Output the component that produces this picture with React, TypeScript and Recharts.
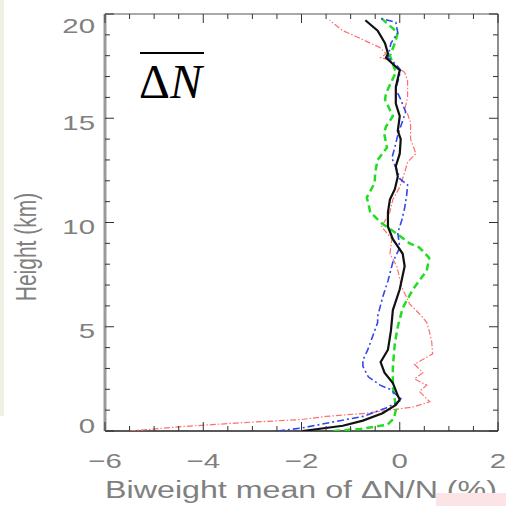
import React from 'react';
import { ScatterChart, Scatter, XAxis, YAxis } from 'recharts';

// ---- axis ticks / labels ----
const X_TICKS = [-6, -5.5, -5, -4.5, -4, -3.5, -3, -2.5, -2, -1.5, -1, -0.5, 0, 0.5, 1, 1.5, 2];
const X_MAJOR = [-6, -4, -2, 0, 2];
const Y_TICKS = [0, 1, 2, 3, 4, 5, 6, 7, 8, 9, 10, 11, 12, 13, 14, 15, 16, 17, 18, 19, 20];
const Y_MAJOR = [0, 5, 10, 15, 20];
const X_LABEL = 'Biweight mean of \u0394N/N (%)';
const Y_LABEL = 'Height (km)';

// ---- series (value in %, height in km) ----
const blackH = [0, 0.25, 0.5, 0.85, 1.25, 1.5, 1.7, 2.3, 2.8, 3.3, 3.9, 4.8, 5.8, 6.8, 7.9, 8.5, 9.2, 9.8, 10.5, 11.1, 11.6, 12.2, 12.7, 13.3, 14.0, 14.4, 15.1, 15.7, 16.5, 17.3, 17.6, 17.9, 18.1, 18.6, 19.2, 19.7];
const blackV = [-1.98, -1.16, -0.75, -0.35, -0.08, 0.0, -0.04, -0.14, -0.31, -0.39, -0.24, -0.18, -0.14, 0.0, 0.1, 0.06, -0.14, -0.24, -0.24, -0.2, -0.1, -0.04, -0.08, 0.0, 0.02, -0.04, 0.0, -0.08, -0.08, 0.0, -0.14, -0.28, -0.24, -0.3, -0.45, -0.7];

const blueH = [0, 0.15, 0.4, 0.7, 1.1, 1.5, 2.0, 2.2, 2.6, 3.1, 3.4, 3.9, 5.2, 5.5, 6.4, 7.2, 8.1, 8.8, 9.5, 10.1, 10.7, 11.3, 11.8, 12.1, 12.4, 13.1, 13.6, 14.2, 15.3, 15.9, 16.4, 17.3, 17.6, 17.9, 18.6, 19.1, 19.6, 19.8];
const blueV = [-2.48, -1.98, -1.43, -0.75, -0.28, 0.05, -0.2, -0.4, -0.64, -0.75, -0.75, -0.65, -0.45, -0.45, -0.35, -0.24, -0.14, 0.0, -0.04, 0.04, 0.1, 0.14, 0.16, 0.0, -0.04, -0.16, -0.1, -0.04, 0.12, 0.02, -0.08, 0.02, -0.08, -0.24, -0.18, -0.04, -0.08, -0.4];

const greenH = [0, 0.1, 0.3, 0.6, 1.0, 1.5, 2.1, 3.1, 4.2, 5.0, 5.9, 6.8, 7.7, 8.3, 8.8, 9.0, 9.5, 10.0, 10.5, 11.2, 11.9, 12.4, 13.0, 13.6, 14.3, 14.6, 15.1, 15.4, 15.9, 16.2, 16.7, 17.2, 17.6, 18.0, 18.6, 19.1, 19.6, 19.8];
const greenV = [-1.35, -0.8, -0.25, -0.12, -0.08, -0.1, -0.14, -0.14, -0.1, -0.04, 0.06, 0.27, 0.55, 0.6, 0.4, 0.2, -0.08, -0.39, -0.6, -0.67, -0.51, -0.5, -0.45, -0.26, -0.32, -0.28, -0.14, -0.2, -0.3, -0.28, -0.18, -0.08, -0.14, -0.2, -0.1, -0.04, -0.28, -0.38];

const redH = [0, 0.2, 0.4, 0.55, 0.7, 0.85, 1.0, 1.15, 1.4, 1.9, 2.2, 2.5, 2.8, 3.2, 3.7, 4.3, 4.8, 5.2, 5.5, 6.1, 6.9, 7.9, 8.5, 9.2, 9.8, 10.5, 11.1, 11.7, 12.4, 12.9, 13.3, 14.0, 14.8, 15.2, 15.4, 16.0, 16.8, 17.2, 17.5, 17.8, 17.9, 18.1, 18.4, 18.7, 19.0, 19.2, 19.7];
const redV = [-5.5, -4.5, -3.2, -2.0, -1.5, -0.7, -0.2, 0.27, 0.61, 0.4, 0.55, 0.3, 0.47, 0.3, 0.67, 0.65, 0.6, 0.55, 0.45, 0.2, 0.04, -0.06, -0.2, -0.16, -0.37, -0.2, -0.14, 0.0, 0.1, 0.16, 0.33, 0.22, 0.22, 0.16, 0.1, 0.16, 0.16, 0.1, -0.08, -0.2, -0.39, -0.28, -0.41, -0.69, -0.96, -1.16, -1.43];

const zip = (hs: number[], vs: number[]) => hs.map((h, i) => ({ x: vs[i], y: h }));
const blackData = zip(blackH, blackV);
const blueData = zip(blueH, blueV);
const greenData = zip(greenH, greenV);
const redData = zip(redH, redV);

const LABEL_FILL = '#808080';
const LABEL_FONT = '"Liberation Sans", Arial, sans-serif';
const TICK_COLOR = '#333';

const fmt = (v: number) => (v < 0 ? '\u2212' + Math.abs(v) : String(v));

const BottomTick = (p: any) => {
  const { x, y, payload } = p;
  const major = X_MAJOR.includes(payload.value);
  return (
    <g>
      <line x1={x} x2={x} y1={y} y2={y - (major ? 9 : 5)} stroke={TICK_COLOR} strokeWidth={1} />
      {major && (
        <text transform={`translate(${x},${y + 37}) scale(1.4,1)`} textAnchor="middle" fontSize={21}
          fontFamily={LABEL_FONT} fill={LABEL_FILL}>{fmt(payload.value)}</text>
      )}
    </g>
  );
};

const TopTick = (p: any) => {
  const { x, y, payload } = p;
  const major = X_MAJOR.includes(payload.value);
  return <line x1={x} x2={x} y1={y} y2={y + (major ? 9 : 5)} stroke={TICK_COLOR} strokeWidth={1} />;
};

const LeftTick = (p: any) => {
  const { x, y, payload } = p;
  const major = Y_MAJOR.includes(payload.value);
  const off = payload.value === 20 ? 19 : payload.value === 0 ? 2 : 11.5;
  return (
    <g>
      <line x1={x} x2={x + (major ? 9 : 5)} y1={y} y2={y} stroke={TICK_COLOR} strokeWidth={1} />
      {major && (
        <text transform={`translate(${x - 10},${y + off}) scale(1.4,1)`} textAnchor="end" fontSize={21}
          fontFamily={LABEL_FONT} fill={LABEL_FILL}>{fmt(payload.value)}</text>
      )}
    </g>
  );
};

const RightTick = (p: any) => {
  const { x, y, payload } = p;
  const major = Y_MAJOR.includes(payload.value);
  return <line x1={x} x2={x - (major ? 9 : 5)} y1={y} y2={y} stroke={TICK_COLOR} strokeWidth={1} />;
};

const NoShape = () => <g />;

export default function App() {
  return (
    <div style={{ position: 'absolute', left: 0, top: 0, width: 506, height: 506, background: '#fff', overflow: 'hidden' }}>
      <ScatterChart width={506} height={506} margin={{ top: 13, right: 7, bottom: 74, left: 104 }}>
        <XAxis xAxisId="b" type="number" dataKey="x" domain={[-6, 2]} ticks={X_TICKS} interval={0}
          tickSize={0} tickMargin={0} height={1} tickLine={false} allowDataOverflow
          axisLine={{ stroke: '#222', strokeWidth: 1.5 }} tick={(p: any) => <BottomTick {...p} />} />
        <XAxis xAxisId="t" orientation="top" type="number" dataKey="x" domain={[-6, 2]} ticks={X_TICKS} interval={0}
          tickSize={0} tickMargin={0} height={1} tickLine={false} allowDataOverflow
          axisLine={{ stroke: '#555', strokeWidth: 1.2 }} tick={(p: any) => <TopTick {...p} />} />
        <YAxis yAxisId="l" type="number" dataKey="y" domain={[0, 20]} ticks={Y_TICKS} interval={0}
          tickSize={0} tickMargin={0} width={1} tickLine={false} allowDataOverflow
          axisLine={{ stroke: '#9a9a9a', strokeWidth: 3 }} tick={(p: any) => <LeftTick {...p} />} />
        <YAxis yAxisId="r" orientation="right" type="number" dataKey="y" domain={[0, 20]} ticks={Y_TICKS} interval={0}
          tickSize={0} tickMargin={0} width={1} tickLine={false} allowDataOverflow
          axisLine={{ stroke: '#444', strokeWidth: 1.2 }} tick={(p: any) => <RightTick {...p} />} />
        <Scatter xAxisId="b" yAxisId="l" data={redData} fill="none" shape={NoShape} isAnimationActive={false}
          line={{ stroke: '#ff6f6f', strokeWidth: 1.2, strokeDasharray: '6 2 1.5 2' }} lineType="joint" />
        <Scatter xAxisId="b" yAxisId="l" data={greenData} fill="none" shape={NoShape} isAnimationActive={false}
          line={{ stroke: '#22dd22', strokeWidth: 2.5, strokeDasharray: '7 4' }} lineType="joint" />
        <Scatter xAxisId="b" yAxisId="l" data={blueData} fill="none" shape={NoShape} isAnimationActive={false}
          line={{ stroke: '#3344f0', strokeWidth: 1.6, strokeDasharray: '7 3 2 3' }} lineType="joint" />
        <Scatter xAxisId="b" yAxisId="l" data={blackData} fill="none" shape={NoShape} isAnimationActive={false}
          line={{ stroke: '#111', strokeWidth: 2.2 }} lineType="joint" />
      </ScatterChart>
      <svg width={506} height={506} style={{ position: 'absolute', left: 0, top: 0, pointerEvents: 'none' }}>
        <text transform="translate(36,247) scale(1.4,1) rotate(-90)" textAnchor="middle" fontSize={21}
          fontFamily={LABEL_FONT} fill={LABEL_FILL}>{Y_LABEL}</text>
        <text transform="translate(301,498) scale(1.4,1)" textAnchor="middle" fontSize={23}
          fontFamily={LABEL_FONT} fill={LABEL_FILL}>{X_LABEL}</text>
        <line x1={140} x2={204} y1={53} y2={53} stroke="#000" strokeWidth={2} />
        <text x={139} y={98} fontSize={48} fontFamily='"Liberation Serif", "Times New Roman", serif' fill="#000">
          {'\u0394'}<tspan fontStyle="italic">N</tspan>
        </text>
      </svg>
      <div style={{ position: 'absolute', left: 0, top: 0, width: 4, height: 416, background: '#efefe3' }} />
      <div style={{ position: 'absolute', left: 436, top: 493, width: 70, height: 13, background: '#fbe3e6' }} />
    </div>
  );
}
